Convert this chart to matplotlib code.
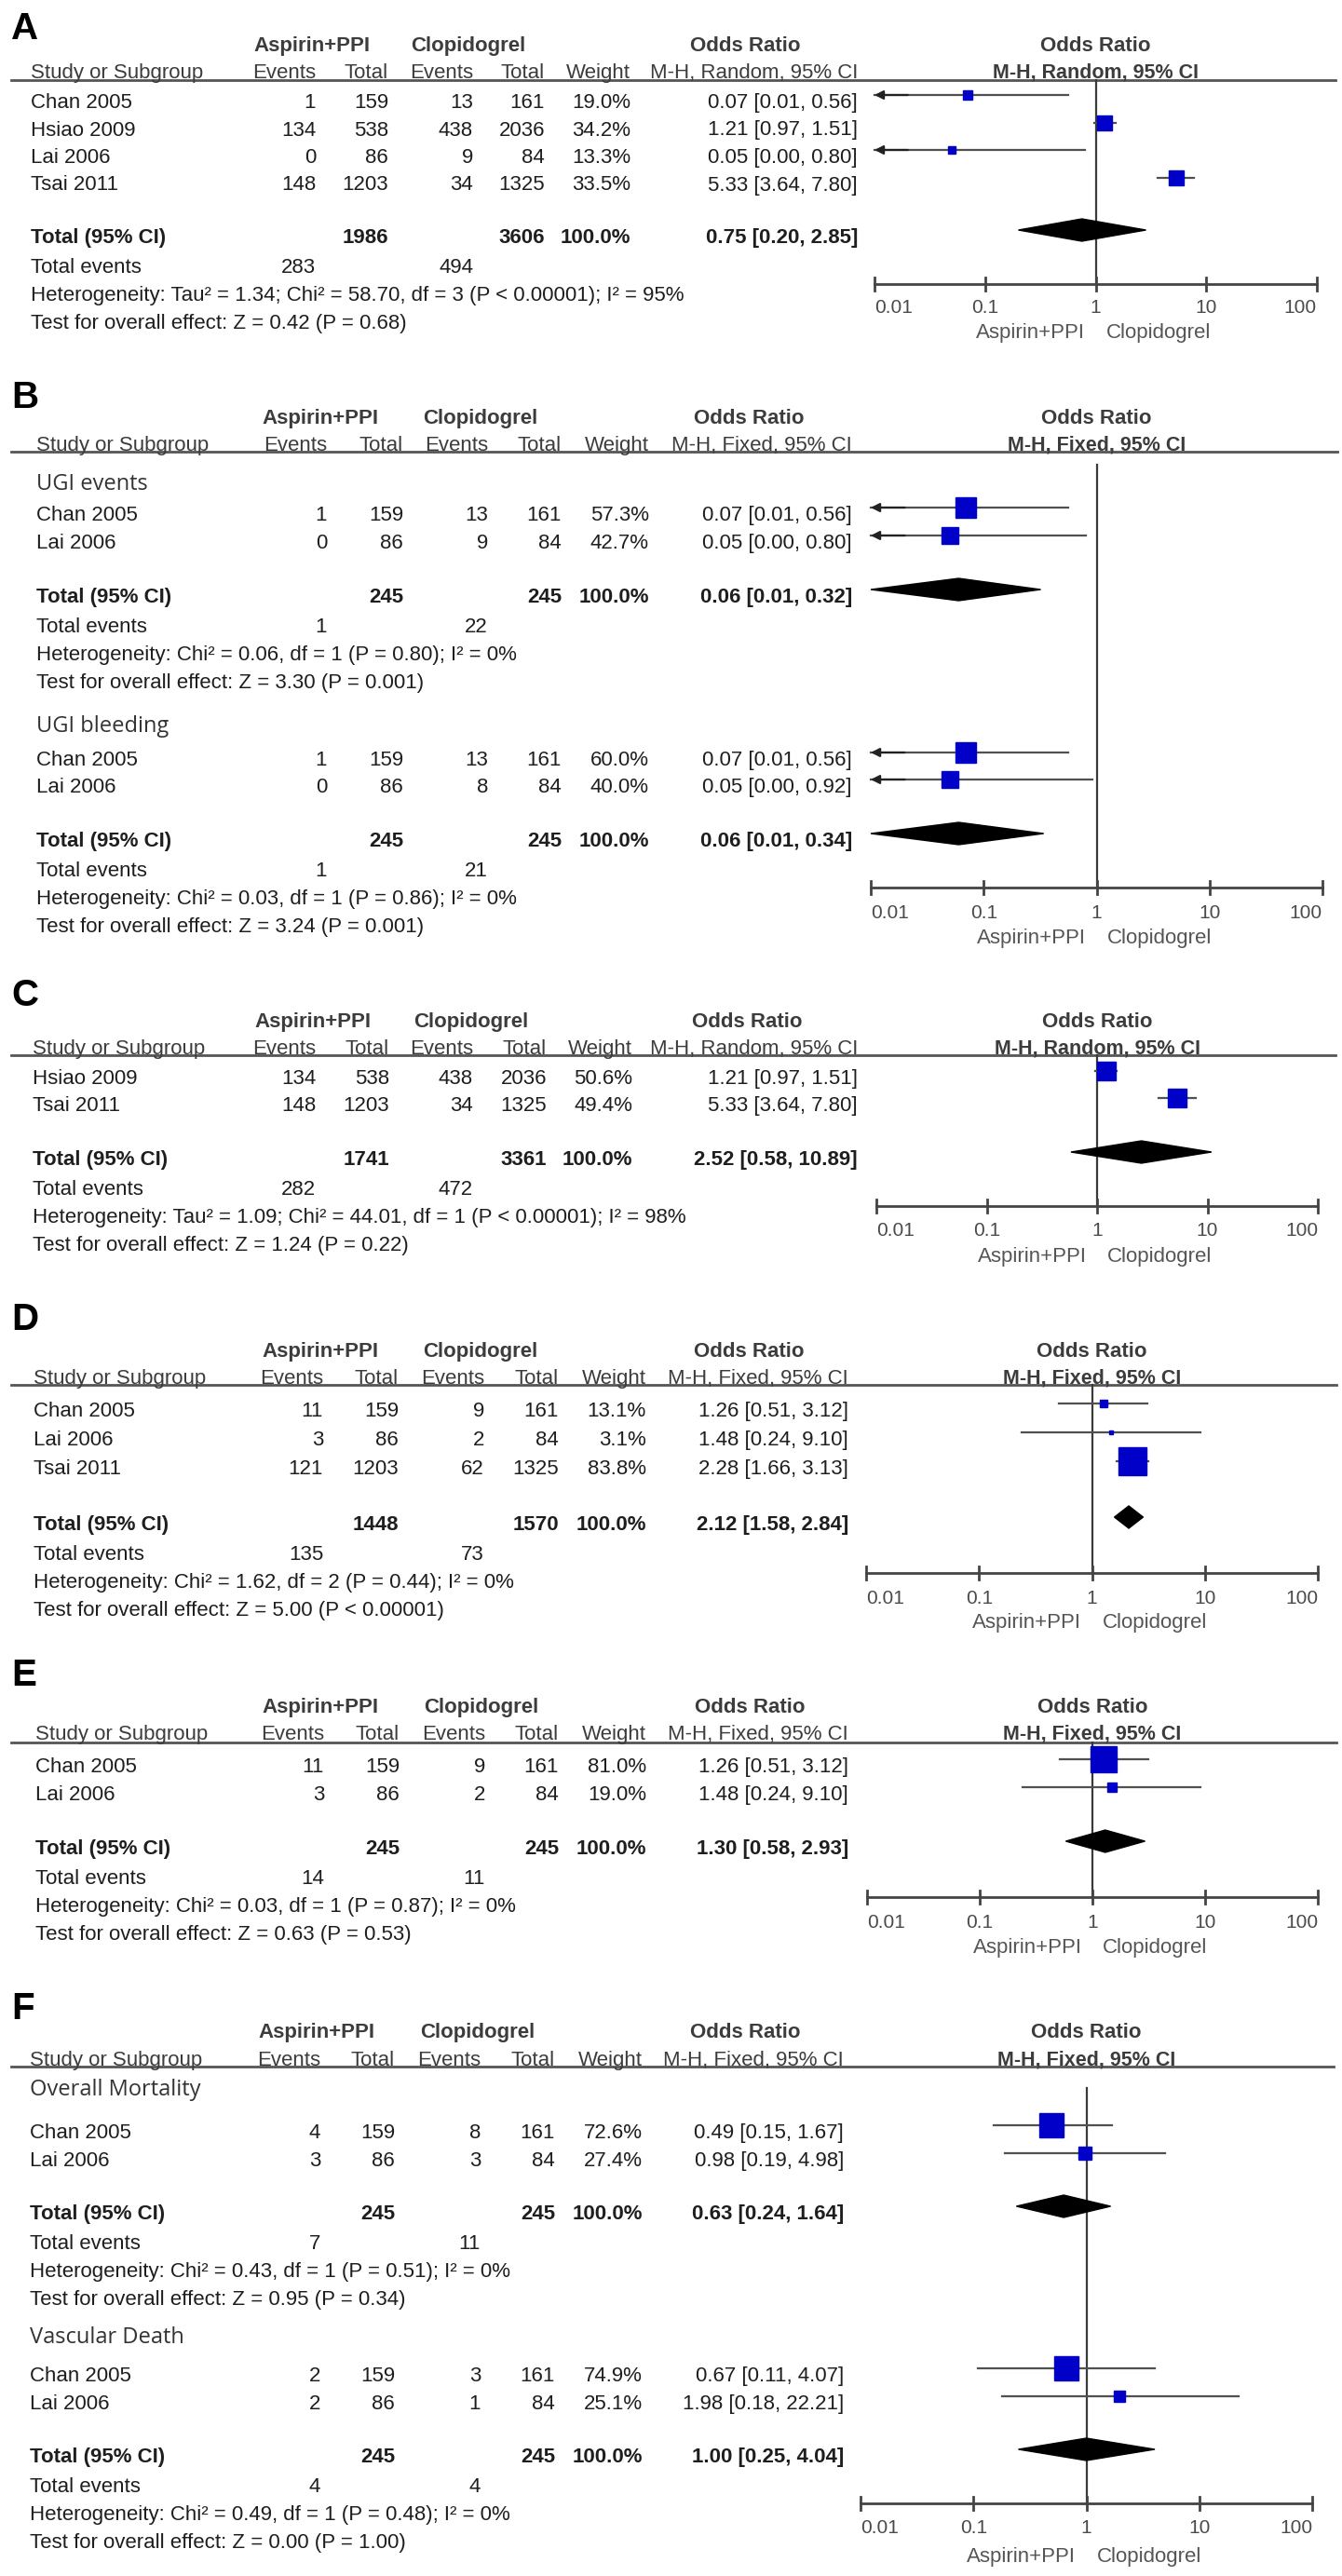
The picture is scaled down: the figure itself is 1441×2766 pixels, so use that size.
import matplotlib
matplotlib.use("Agg")
import matplotlib.pyplot as plt

W, H = 1441, 2766
TXT = "#1e1e1e"
HDR = "#3c3c3c"
CI_COL = "#505050"
BLUE = "#0000c8"
FONT = "Liberation Sans"
SUB_FONT = "Open Sans"

# ---------------- data ----------------
# A
a_study = ["Chan 2005", "Hsiao 2009", "Lai 2006", "Tsai 2011"]
a_ev_asp = [1, 134, 0, 148]
a_n_asp = [159, 538, 86, 1203]
a_ev_clo = [13, 438, 9, 34]
a_n_clo = [161, 2036, 84, 1325]
a_weight = [19.0, 34.2, 13.3, 33.5]
a_or = [0.07, 1.21, 0.05, 5.33]
a_lo = [0.01, 0.97, 0.00, 3.64]
a_hi = [0.56, 1.51, 0.80, 7.80]
a_total = [1986, 3606, 283, 494]   # total asp, total clo, events asp, events clo
a_pooled = [0.75, 0.20, 2.85]
a_het = "Heterogeneity: Tau² = 1.34; Chi² = 58.70, df = 3 (P < 0.00001); I² = 95%"
a_test = "Test for overall effect: Z = 0.42 (P = 0.68)"

# B, UGI events
b1_study = ["Chan 2005", "Lai 2006"]
b1_ev_asp = [1, 0]
b1_n_asp = [159, 86]
b1_ev_clo = [13, 9]
b1_n_clo = [161, 84]
b1_weight = [57.3, 42.7]
b1_or = [0.07, 0.05]
b1_lo = [0.01, 0.00]
b1_hi = [0.56, 0.80]
b1_total = [245, 245, 1, 22]
b1_pooled = [0.06, 0.01, 0.32]
b1_het = "Heterogeneity: Chi² = 0.06, df = 1 (P = 0.80); I² = 0%"
b1_test = "Test for overall effect: Z = 3.30 (P = 0.001)"

# B, UGI bleeding
b2_study = ["Chan 2005", "Lai 2006"]
b2_ev_asp = [1, 0]
b2_n_asp = [159, 86]
b2_ev_clo = [13, 8]
b2_n_clo = [161, 84]
b2_weight = [60.0, 40.0]
b2_or = [0.07, 0.05]
b2_lo = [0.01, 0.00]
b2_hi = [0.56, 0.92]
b2_total = [245, 245, 1, 21]
b2_pooled = [0.06, 0.01, 0.34]
b2_het = "Heterogeneity: Chi² = 0.03, df = 1 (P = 0.86); I² = 0%"
b2_test = "Test for overall effect: Z = 3.24 (P = 0.001)"

# C
c_study = ["Hsiao 2009", "Tsai 2011"]
c_ev_asp = [134, 148]
c_n_asp = [538, 1203]
c_ev_clo = [438, 34]
c_n_clo = [2036, 1325]
c_weight = [50.6, 49.4]
c_or = [1.21, 5.33]
c_lo = [0.97, 3.64]
c_hi = [1.51, 7.80]
c_total = [1741, 3361, 282, 472]
c_pooled = [2.52, 0.58, 10.89]
c_het = "Heterogeneity: Tau² = 1.09; Chi² = 44.01, df = 1 (P < 0.00001); I² = 98%"
c_test = "Test for overall effect: Z = 1.24 (P = 0.22)"

# D
d_study = ["Chan 2005", "Lai 2006", "Tsai 2011"]
d_ev_asp = [11, 3, 121]
d_n_asp = [159, 86, 1203]
d_ev_clo = [9, 2, 62]
d_n_clo = [161, 84, 1325]
d_weight = [13.1, 3.1, 83.8]
d_or = [1.26, 1.48, 2.28]
d_lo = [0.51, 0.24, 1.66]
d_hi = [3.12, 9.10, 3.13]
d_total = [1448, 1570, 135, 73]
d_pooled = [2.12, 1.58, 2.84]
d_het = "Heterogeneity: Chi² = 1.62, df = 2 (P = 0.44); I² = 0%"
d_test = "Test for overall effect: Z = 5.00 (P < 0.00001)"

# E
e_study = ["Chan 2005", "Lai 2006"]
e_ev_asp = [11, 3]
e_n_asp = [159, 86]
e_ev_clo = [9, 2]
e_n_clo = [161, 84]
e_weight = [81.0, 19.0]
e_or = [1.26, 1.48]
e_lo = [0.51, 0.24]
e_hi = [3.12, 9.10]
e_total = [245, 245, 14, 11]
e_pooled = [1.30, 0.58, 2.93]
e_het = "Heterogeneity: Chi² = 0.03, df = 1 (P = 0.87); I² = 0%"
e_test = "Test for overall effect: Z = 0.63 (P = 0.53)"

# F, Overall Mortality
f1_study = ["Chan 2005", "Lai 2006"]
f1_ev_asp = [4, 3]
f1_n_asp = [159, 86]
f1_ev_clo = [8, 3]
f1_n_clo = [161, 84]
f1_weight = [72.6, 27.4]
f1_or = [0.49, 0.98]
f1_lo = [0.15, 0.19]
f1_hi = [1.67, 4.98]
f1_total = [245, 245, 7, 11]
f1_pooled = [0.63, 0.24, 1.64]
f1_het = "Heterogeneity: Chi² = 0.43, df = 1 (P = 0.51); I² = 0%"
f1_test = "Test for overall effect: Z = 0.95 (P = 0.34)"

# F, Vascular Death
f2_study = ["Chan 2005", "Lai 2006"]
f2_ev_asp = [2, 2]
f2_n_asp = [159, 86]
f2_ev_clo = [3, 1]
f2_n_clo = [161, 84]
f2_weight = [74.9, 25.1]
f2_or = [0.67, 1.98]
f2_lo = [0.11, 0.18]
f2_hi = [4.07, 22.21]
f2_total = [245, 245, 4, 4]
f2_pooled = [1.00, 0.25, 4.04]
f2_het = "Heterogeneity: Chi² = 0.49, df = 1 (P = 0.48); I² = 0%"
f2_test = "Test for overall effect: Z = 0.00 (P = 1.00)"

ticks = [0.01, 0.1, 1, 10, 100]
tick_labels = ["0.01", "0.1", "1", "10", "100"]


def group(name, study, ev1, n1, ev2, n2, w, orr, lo, hi, total, pooled, het, test):
    return dict(name=name, study=study, ev1=ev1, n1=n1, ev2=ev2, n2=n2, w=w,
                orr=orr, lo=lo, hi=hi, total=total, pooled=pooled, het=het, test=test)


A = group(None, a_study, a_ev_asp, a_n_asp, a_ev_clo, a_n_clo, a_weight, a_or, a_lo, a_hi, a_total, a_pooled, a_het, a_test)
B1 = group("UGI events", b1_study, b1_ev_asp, b1_n_asp, b1_ev_clo, b1_n_clo, b1_weight, b1_or, b1_lo, b1_hi, b1_total, b1_pooled, b1_het, b1_test)
B2 = group("UGI bleeding", b2_study, b2_ev_asp, b2_n_asp, b2_ev_clo, b2_n_clo, b2_weight, b2_or, b2_lo, b2_hi, b2_total, b2_pooled, b2_het, b2_test)
C = group(None, c_study, c_ev_asp, c_n_asp, c_ev_clo, c_n_clo, c_weight, c_or, c_lo, c_hi, c_total, c_pooled, c_het, c_test)
D = group(None, d_study, d_ev_asp, d_n_asp, d_ev_clo, d_n_clo, d_weight, d_or, d_lo, d_hi, d_total, d_pooled, d_het, d_test)
E = group(None, e_study, e_ev_asp, e_n_asp, e_ev_clo, e_n_clo, e_weight, e_or, e_lo, e_hi, e_total, e_pooled, e_het, e_test)
F1 = group("Overall Mortality", f1_study, f1_ev_asp, f1_n_asp, f1_ev_clo, f1_n_clo, f1_weight, f1_or, f1_lo, f1_hi, f1_total, f1_pooled, f1_het, f1_test)
F2 = group("Vascular Death", f2_study, f2_ev_asp, f2_n_asp, f2_ev_clo, f2_n_clo, f2_weight, f2_or, f2_lo, f2_hi, f2_total, f2_pooled, f2_het, f2_test)

# layout in pixels: groups are (data, heading y, first row y, row pitch, total row y)
panels = [
    dict(label="A", method="M-H, Random, 95% CI", label_y=28, hdr1=47, hdr2=76, line=86,
         cols=[33, 339, 417, 508, 585, 677, 921], hdr_x=[335, 503, 800], line_end=1434,
         xr=(939, 1414), vtop=86, axis_y=305, tick_y=328, axlab_y=355,
         groups=[(A, None, 108, 29.5, 253)]),
    dict(label="B", method="M-H, Fixed, 95% CI", label_y=423, hdr1=447, hdr2=476, line=485,
         cols=[39, 351, 433, 524, 603, 697, 915], hdr_x=[344, 516, 804], line_end=1436,
         xr=(935, 1420), vtop=499, axis_y=953, tick_y=978, axlab_y=1005,
         groups=[(B1, 518, 551, 30, 639), (B2, 777, 814, 29, 901)]),
    dict(label="C", method="M-H, Random, 95% CI", label_y=1065, hdr1=1095, hdr2=1124, line=1133,
         cols=[35, 339, 418, 508, 587, 679, 921], hdr_x=[336, 506, 802], line_end=1434,
         xr=(941, 1415), vtop=1133, axis_y=1295, tick_y=1320, axlab_y=1347,
         groups=[(C, None, 1156, 29, 1243)]),
    dict(label="D", method="M-H, Fixed, 95% CI", label_y=1413, hdr1=1449, hdr2=1478, line=1487,
         cols=[36, 347, 428, 520, 600, 694, 911], hdr_x=[344, 516, 804], line_end=1435,
         xr=(930, 1415), vtop=1487, axis_y=1689, tick_y=1715, axlab_y=1740,
         groups=[(D, None, 1513, 31, 1635)]),
    dict(label="E", method="M-H, Fixed, 95% CI", label_y=1795, hdr1=1831, hdr2=1860, line=1871,
         cols=[38, 348, 429, 521, 600, 694, 911], hdr_x=[344, 517, 805], line_end=1435,
         xr=(931, 1415), vtop=1871, axis_y=2037, tick_y=2062, axlab_y=2089,
         groups=[(E, None, 1895, 30, 1983)]),
    dict(label="F", method="M-H, Fixed, 95% CI", label_y=2154, hdr1=2180, hdr2=2210, line=2219,
         cols=[32, 344, 424, 516, 596, 690, 906], hdr_x=[340, 513, 800], line_end=1432,
         xr=(924, 1409), vtop=2242, axis_y=2688, tick_y=2712, axlab_y=2743,
         groups=[(F1, 2242, 2288, 30, 2375), (F2, 2507, 2549, 30, 2636)]),
]

fig = plt.figure(figsize=(W / 100, H / 100), dpi=100)
bg = fig.add_axes([0, 0, 1, 1])
bg.set_xlim(0, W)
bg.set_ylim(H, 0)
bg.axis("off")

TS = 16  # table text size


def put(ax, x, y, s, size=TS, ha="left", bold=False, color=TXT, family=FONT):
    # y is the centre of the capital letters, in pixels
    half_cap = 0.36 * size * 100 / 72
    ax.text(x, y + half_cap, s, fontsize=size, ha=ha, va="baseline",
            fontweight="bold" if bold else "normal", color=color, family=family)


def box_size(w):
    px = max(4.0, 1.2 * w ** 0.72)
    return px * 0.72


for p in panels:
    c = p["cols"]
    put(bg, 12, p["label_y"], p["label"], size=29, bold=True, color="black")
    put(bg, p["hdr_x"][0], p["hdr1"], "Aspirin+PPI", ha="center", bold=True, color=HDR)
    put(bg, p["hdr_x"][1], p["hdr1"], "Clopidogrel", ha="center", bold=True, color=HDR)
    put(bg, p["hdr_x"][2], p["hdr1"], "Odds Ratio", ha="center", bold=True, color=HDR)
    put(bg, c[0], p["hdr2"], "Study or Subgroup", color=HDR)
    for x, s in zip(c[1:6], ["Events", "Total", "Events", "Total", "Weight"]):
        put(bg, x, p["hdr2"], s, ha="right", color=HDR)
    put(bg, c[6], p["hdr2"], p["method"], ha="right", color=HDR)
    bg.plot([12, p["line_end"]], [p["line"], p["line"]], color="#555555", lw=2)

    # forest plot axes, log scale in x, pixel rows in y
    x0, x1 = p["xr"]
    ytop, ybot = p["line"] - 2, p["axlab_y"] + 20
    ax = fig.add_axes([x0 / W, 1 - ybot / H, (x1 - x0) / W, (ybot - ytop) / H])
    ax.set_xscale("log")
    ax.set_xlim(0.01, 100)
    ax.set_ylim(ybot, ytop)
    ax.axis("off")

    put(ax, 1, p["hdr1"], "Odds Ratio", size=16, ha="center", bold=True, color=HDR)
    put(ax, 1, p["hdr2"], p["method"], size=15.5, ha="center", bold=True, color=HDR)

    ay = p["axis_y"]
    ax.plot([1, 1], [p["vtop"], ay], color="#3a3a3a", lw=1.6, zorder=1, clip_on=False)
    ax.plot([0.01, 100], [ay, ay], color="#444444", lw=2, clip_on=False)
    for i, (t, lab) in enumerate(zip(ticks, tick_labels)):
        ax.plot([t, t], [ay - 7, ay + 7], color="#444444", lw=2, clip_on=False)
        ha = "left" if i == 0 else ("right" if i == len(ticks) - 1 else "center")
        put(ax, t, p["tick_y"], lab, size=15, ha=ha, color="#4a4a4a")
    half_cap = 0.36 * 16 * 100 / 72
    ax.annotate("Aspirin+PPI", (1, p["axlab_y"] + half_cap), xytext=(-8, 0), textcoords="offset points",
                ha="right", va="baseline", fontsize=16, color="#555555", family=FONT)
    ax.annotate("Clopidogrel", (1, p["axlab_y"] + half_cap), xytext=(8, 0), textcoords="offset points",
                ha="left", va="baseline", fontsize=16, color="#555555", family=FONT)

    for g, head_y, y0, pitch, ty in p["groups"]:
        if g["name"]:
            put(bg, c[0], head_y, g["name"], size=17, color="#333333", family=SUB_FONT)
        for i, name in enumerate(g["study"]):
            y = y0 + i * pitch
            put(bg, c[0], y, name)
            put(bg, c[1], y, str(g["ev1"][i]), ha="right")
            put(bg, c[2], y, str(g["n1"][i]), ha="right")
            put(bg, c[3], y, str(g["ev2"][i]), ha="right")
            put(bg, c[4], y, str(g["n2"][i]), ha="right")
            put(bg, c[5], y, f"{g['w'][i]:.1f}%", ha="right")
            put(bg, c[6], y, f"{g['orr'][i]:.2f} [{g['lo'][i]:.2f}, {g['hi'][i]:.2f}]", ha="right")

            my = y - 6
            lo, hi = g["lo"][i], g["hi"][i]
            ax.plot([max(lo, 0.01), hi], [my, my], color=CI_COL, lw=1.6, zorder=2, clip_on=False)
            if lo <= 0.01:
                ax.annotate("", xy=(0.01, my), xytext=(0.02, my),
                            arrowprops=dict(arrowstyle="-|>,head_length=0.55,head_width=0.28",
                                            color="#222222", lw=1.6, shrinkA=0, shrinkB=0))
            ax.plot(g["orr"][i], my, marker="s", ms=box_size(g["w"][i]), color=BLUE,
                    mec=BLUE, zorder=3, clip_on=False)

        tot = g["total"]
        est, plo, phi = g["pooled"]
        put(bg, c[0], ty, "Total (95% CI)", bold=True)
        put(bg, c[2], ty, str(tot[0]), ha="right", bold=True)
        put(bg, c[4], ty, str(tot[1]), ha="right", bold=True)
        put(bg, c[5], ty, "100.0%", ha="right", bold=True)
        put(bg, c[6], ty, f"{est:.2f} [{plo:.2f}, {phi:.2f}]", ha="right", bold=True)
        dy = ty - 6
        ax.fill([plo, est, phi, est], [dy, dy - 12, dy, dy + 12], color="black", zorder=3, clip_on=False)

        put(bg, c[0], ty + 32, "Total events")
        put(bg, c[1], ty + 32, str(tot[2]), ha="right")
        put(bg, c[3], ty + 32, str(tot[3]), ha="right")
        put(bg, c[0], ty + 62, g["het"])
        put(bg, c[0], ty + 92, g["test"])

fig.savefig("out.png", dpi=100, facecolor="white")
